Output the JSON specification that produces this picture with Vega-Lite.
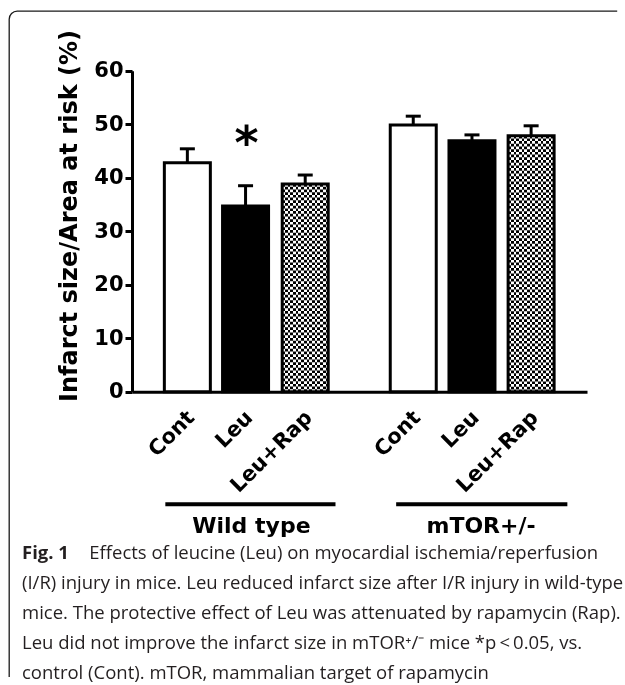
{
  "$schema": "https://vega.github.io/schema/vega-lite/v6.json",
  "width": 616,
  "height": 674,
  "autosize": {"type": "none"},
  "padding": {"left": 9, "top": 11, "right": 0, "bottom": 0},
  "background": "white",
  "config": {
    "view": {"stroke": "#1a1a1a", "strokeWidth": 1.3, "cornerRadius": 8, "fill": "white", "strokeDash": [600, 1295.7, 700]},
    "font": "DejaVu Sans"
  },
  "title": {
    "text": "Fig. 1",
    "subtitle": [
      "\u200b\u00a0\u00a0\u00a0\u00a0\u00a0\u00a0\u00a0\u00a0\u00a0\u00a0\u00a0\u00a0\u00a0\u00a0Effects of leucine (Leu) on myocardial ischemia/reperfusion",
      "(I/R) injury in mice. Leu reduced infarct size after I/R injury in wild-type",
      "mice. The protective effect of Leu was attenuated by rapamycin (Rap).",
      "Leu did not improve the infarct size in mTOR\u207a/\u207b mice *p\u2009<\u20090.05, vs.",
      "control (Cont). mTOR, mammalian target of rapamycin"
    ],
    "orient": "bottom",
    "anchor": "start",
    "frame": "group",
    "offset": -141.5,
    "dx": 13,
    "baseline": "top",
    "font": "Open Sans",
    "fontSize": 18.5,
    "fontWeight": "bold",
    "color": "#231f20",
    "subtitleFont": "Open Sans",
    "subtitleFontSize": 18.5,
    "subtitleColor": "#231f20",
    "subtitleLineHeight": 30.2,
    "subtitlePadding": -18.5
  },
  "datasets": {
    "bars": [
      {"genotype": "Wild type", "treatment": "Cont", "pos": 0.86, "mean": 42.8, "upper": 45.4, "sig": ""},
      {"genotype": "Wild type", "treatment": "Leu", "pos": 1.854, "mean": 34.7, "upper": 38.5, "sig": "*"},
      {"genotype": "Wild type", "treatment": "Leu+Rap", "pos": 2.873, "mean": 38.8, "upper": 40.5, "sig": ""},
      {"genotype": "mTOR+/-", "treatment": "Cont", "pos": 4.718, "mean": 49.85, "upper": 51.5, "sig": ""},
      {"genotype": "mTOR+/-", "treatment": "Leu", "pos": 5.721, "mean": 46.9, "upper": 48.0, "sig": ""},
      {"genotype": "mTOR+/-", "treatment": "Leu+Rap", "pos": 6.731, "mean": 47.85, "upper": 49.7, "sig": ""}
    ],
    "groups": [
      {"genotype": "Wild type", "start": 0.484, "end": 3.39, "mid": 1.954},
      {"genotype": "mTOR+/-", "start": 4.426, "end": 7.35, "mid": 5.876}
    ]
  },
  "data": {"name": "bars"},
  "layer": [
    {
      "transform": [{"filter": "datum.treatment === 'Leu+Rap'"}],
      "mark": {"type": "rule", "strokeWidth": 46, "strokeDash": [2.7, 2.7], "color": "black", "strokeCap": "butt"},
      "encoding": {
        "x": {
          "field": "pos", "type": "quantitative", "title": null,
          "scale": {"domain": [0, 7.6], "range": [123, 578], "nice": false, "zero": false},
          "axis": {"offset": -293.3, "domainColor": "black", "domainWidth": 3, "ticks": false, "labels": false, "grid": false}
        },
        "y": {
          "field": "mean", "type": "quantitative", "title": "Infarct size/Area at risk (%)",
          "scale": {"domain": [0, 60], "range": [380.7, 59.7], "nice": false},
          "axis": {
            "values": [0, 10, 20, 30, 40, 50, 60],
            "offset": -123,
            "grid": false,
            "domainColor": "black", "domainWidth": 3,
            "tickColor": "black", "tickWidth": 3, "tickSize": 7,
            "labelFont": "DejaVu Sans", "labelFontWeight": "bold", "labelFontSize": 21, "labelColor": "black", "labelPadding": 2,
            "titleFont": "DejaVu Sans", "titleFontWeight": "bold", "titleFontSize": 24, "titleColor": "black",
            "titleAngle": -90, "titleX": -56, "titleY": 204.5, "titleAlign": "center", "titleBaseline": "alphabetic"
          }
        },
        "y2": {"datum": 0}
      }
    },
    {
      "transform": [{"filter": "datum.treatment === 'Leu+Rap'"}],
      "mark": {
        "type": "bar", "orient": "vertical", "width": 46, "strokeWidth": 0, "blend": "difference",
        "fill": {
          "gradient": "linear", "x1": 0, "y1": 0, "x2": 1, "y2": 0,
          "stops": [
            {"offset": 0, "color": "#000"}, {"offset": 0.0588, "color": "#000"},
            {"offset": 0.0588, "color": "#fff"}, {"offset": 0.1176, "color": "#fff"},
            {"offset": 0.1176, "color": "#000"}, {"offset": 0.1765, "color": "#000"},
            {"offset": 0.1765, "color": "#fff"}, {"offset": 0.2353, "color": "#fff"},
            {"offset": 0.2353, "color": "#000"}, {"offset": 0.2941, "color": "#000"},
            {"offset": 0.2941, "color": "#fff"}, {"offset": 0.3529, "color": "#fff"},
            {"offset": 0.3529, "color": "#000"}, {"offset": 0.4118, "color": "#000"},
            {"offset": 0.4118, "color": "#fff"}, {"offset": 0.4706, "color": "#fff"},
            {"offset": 0.4706, "color": "#000"}, {"offset": 0.5294, "color": "#000"},
            {"offset": 0.5294, "color": "#fff"}, {"offset": 0.5882, "color": "#fff"},
            {"offset": 0.5882, "color": "#000"}, {"offset": 0.6471, "color": "#000"},
            {"offset": 0.6471, "color": "#fff"}, {"offset": 0.7059, "color": "#fff"},
            {"offset": 0.7059, "color": "#000"}, {"offset": 0.7647, "color": "#000"},
            {"offset": 0.7647, "color": "#fff"}, {"offset": 0.8235, "color": "#fff"},
            {"offset": 0.8235, "color": "#000"}, {"offset": 0.8824, "color": "#000"},
            {"offset": 0.8824, "color": "#fff"}, {"offset": 0.9412, "color": "#fff"},
            {"offset": 0.9412, "color": "#000"}, {"offset": 1, "color": "#000"}
          ]
        }
      },
      "encoding": {
        "x": {"field": "pos", "type": "quantitative", "title": null},
        "y": {"field": "mean", "type": "quantitative", "title": "Infarct size/Area at risk (%)", "stack": null},
        "y2": {"datum": 0}
      }
    },
    {
      "mark": {"type": "bar", "orient": "vertical", "width": 46, "stroke": "black", "strokeWidth": 3},
      "encoding": {
        "x": {"field": "pos", "type": "quantitative", "title": null},
        "y": {"field": "mean", "type": "quantitative", "title": "Infarct size/Area at risk (%)", "stack": null},
        "y2": {"datum": 0},
        "fill": {
          "field": "treatment", "type": "nominal", "legend": null,
          "scale": {"domain": ["Cont", "Leu", "Leu+Rap"], "range": ["white", "black", "transparent"]}
        }
      }
    },
    {
      "mark": {"type": "rule", "strokeWidth": 3, "color": "black"},
      "encoding": {
        "x": {"field": "pos", "type": "quantitative", "title": null},
        "y": {"field": "mean", "type": "quantitative", "title": "Infarct size/Area at risk (%)"},
        "y2": {"field": "upper"}
      }
    },
    {
      "mark": {"type": "tick", "orient": "horizontal", "size": 15, "thickness": 3, "color": "black", "opacity": 1},
      "encoding": {
        "x": {"field": "pos", "type": "quantitative", "title": null},
        "y": {"field": "upper", "type": "quantitative", "title": "Infarct size/Area at risk (%)"}
      }
    },
    {
      "transform": [{"filter": "datum.sig !== ''"}],
      "mark": {"type": "text", "font": "DejaVu Sans", "fontWeight": "bold", "fontSize": 46, "baseline": "alphabetic", "align": "center", "dy": -27, "dx": 1, "color": "black"},
      "encoding": {
        "x": {"field": "pos", "type": "quantitative", "title": null},
        "y": {"field": "upper", "type": "quantitative", "title": "Infarct size/Area at risk (%)"},
        "text": {"field": "sig"}
      }
    },
    {
      "mark": {"type": "text", "font": "DejaVu Sans", "fontWeight": "bold", "fontSize": 21, "angle": 315, "align": "right", "baseline": "middle", "xOffset": 4, "yOffset": 23, "color": "black"},
      "encoding": {
        "x": {"field": "pos", "type": "quantitative", "title": null},
        "y": {"datum": 0, "type": "quantitative"},
        "text": {"field": "treatment"}
      }
    },
    {
      "data": {"name": "groups"},
      "mark": {"type": "rule", "strokeWidth": 4, "color": "black", "yOffset": 112.5},
      "encoding": {
        "x": {"field": "start", "type": "quantitative", "title": null},
        "x2": {"field": "end"},
        "y": {"datum": 0, "type": "quantitative"}
      }
    },
    {
      "data": {"name": "groups"},
      "mark": {"type": "text", "font": "DejaVu Sans", "fontWeight": "bold", "fontSize": 22, "align": "center", "baseline": "alphabetic", "yOffset": 141.5, "color": "black"},
      "encoding": {
        "x": {"field": "mid", "type": "quantitative", "title": null},
        "y": {"datum": 0, "type": "quantitative"},
        "text": {"field": "genotype"}
      }
    }
  ]
}
